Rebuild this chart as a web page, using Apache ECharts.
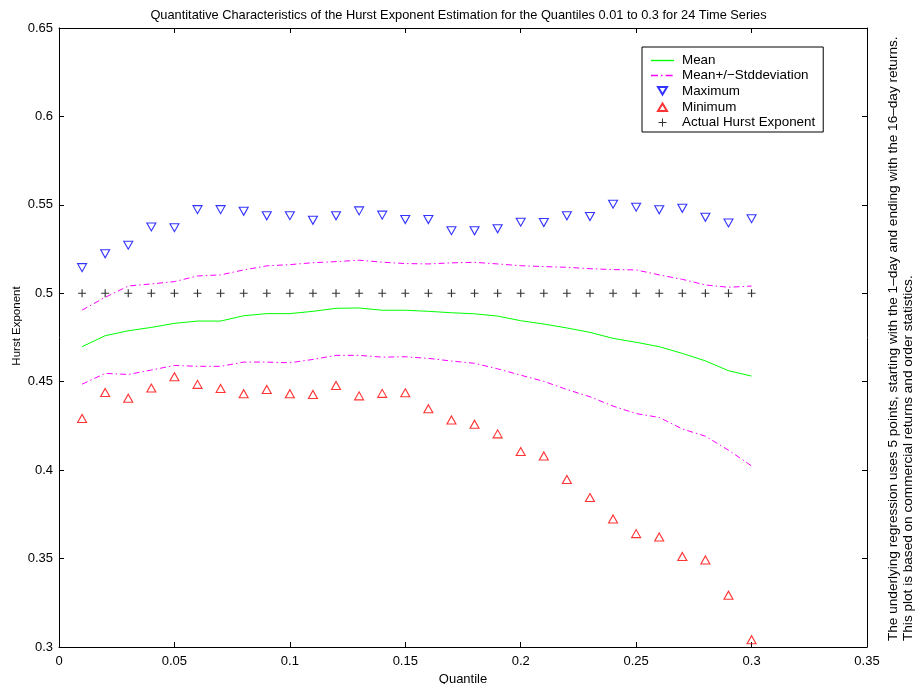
<!DOCTYPE html>
<html>
<head>
<meta charset="utf-8">
<script src="https://cdn.jsdelivr.net/npm/echarts@6/dist/echarts.min.js"></script>
<style>html,body{margin:0;padding:0;background:#fff}#c{width:917px;height:684px}</style>
</head>
<body>
<div id="c"></div>
<script>
var quantiles = [0.01,0.02,0.03,0.04,0.05,0.06,0.07,0.08,0.09,0.10,0.11,0.12,0.13,0.14,0.15,0.16,0.17,0.18,0.19,0.20,0.21,0.22,0.23,0.24,0.25,0.26,0.27,0.28,0.29,0.30];
var meanVals = [0.4698,0.4760,0.4788,0.4807,0.4830,0.4843,0.4843,0.4873,0.4885,0.4885,0.4898,0.4915,0.4917,0.4904,0.4904,0.4898,0.4890,0.4884,0.4871,0.4845,0.4826,0.4804,0.4779,0.4745,0.4723,0.4698,0.4660,0.4618,0.4562,0.4532];
var upperStd = [0.4905,0.4977,0.5041,0.5053,0.5066,0.5098,0.5104,0.5132,0.5155,0.5162,0.5173,0.5179,0.5187,0.5176,0.5168,0.5166,0.5172,0.5175,0.5166,0.5156,0.5151,0.5147,0.5139,0.5134,0.5132,0.5104,0.5079,0.5047,0.5034,0.5041];
var lowerStd = [0.4486,0.4547,0.4541,0.4566,0.4592,0.4587,0.4587,0.4611,0.4611,0.4607,0.4626,0.4649,0.4649,0.4639,0.4641,0.4632,0.4617,0.4604,0.4573,0.4537,0.4502,0.4456,0.4415,0.4362,0.4320,0.4298,0.4233,0.4192,0.4113,0.4024];
var maxVals = [0.5145,0.5223,0.5272,0.5375,0.5371,0.5473,0.5473,0.5464,0.5438,0.5439,0.5413,0.5438,0.5466,0.5442,0.5417,0.5417,0.5354,0.5353,0.5365,0.5402,0.5400,0.5438,0.5434,0.5504,0.5487,0.5472,0.5481,0.5430,0.5398,0.5422];
var minVals = [0.4292,0.4439,0.4407,0.4464,0.4528,0.4485,0.4462,0.4432,0.4456,0.4432,0.4428,0.4479,0.4420,0.4434,0.4437,0.4347,0.4284,0.4260,0.4205,0.4105,0.4080,0.3947,0.3845,0.3724,0.3641,0.3622,0.3512,0.3492,0.3293,0.3041];
var actualHurst = [0.5,0.5,0.5,0.5,0.5,0.5,0.5,0.5,0.5,0.5,0.5,0.5,0.5,0.5,0.5,0.5,0.5,0.5,0.5,0.5,0.5,0.5,0.5,0.5,0.5,0.5,0.5,0.5,0.5,0.5];

var titleText = 'Quantitative Characteristics of the Hurst Exponent Estimation for the Quantiles 0.01 to 0.3 for 24 Time Series';
var xName = 'Quantile';
var yName = 'Hurst Exponent';
var noteLine1 = 'The underlying regression uses 5 points, starting with the 1\u2013day and ending with the 16\u2013day returns.';
var noteLine2 = 'This plot is based on commercial returns and order statistics.';

function pairs(xs, ys){ return xs.map(function(x,i){ return [x, ys[i]]; }); }

var FONT = 'Liberation Sans, Arial, Helvetica, sans-serif';
var downTri = 'path://M0,0L10,0L5,8Z';
var upTri = 'path://M5,0L10,8L0,8Z';
var plus = 'path://M4.3,0H5.7V4.3H10V5.7H5.7V10H4.3V5.7H0V4.3H4.3Z';
// legend icons padded with move-to points so they keep their size
var lineIcon = 'path://M0,0M23,12M0,5.3H23V6.7H0Z';
var dashDotIcon = 'path://M0,0M23,12M0,5.2H7V6.8H0ZM10,5.2H11.6V6.8H10ZM14.6,5.2H21.6V6.8H14.6Z';
var downTriIcon = 'path://M0,0M23,12M7,2L16,2L11.5,9.5Z';
var upTriIcon = 'path://M0,0M23,12M11.5,2.5L16,10L7,10Z';
var plusIcon = 'path://M0,0M23,12M11,2H12V5.5H15.5V6.5H12V10H11V6.5H7.5V5.5H11Z';

var chart = echarts.init(document.getElementById('c'), null, {renderer:'canvas'});
var axisCommon = {
  axisLine:{show:true, onZero:false, lineStyle:{color:'#000', width:1}},
  axisTick:{show:true, inside:true, length:5, lineStyle:{color:'#000', width:1}},
  splitLine:{show:false}
};
chart.setOption({
  animation:false,
  backgroundColor:'#fff',
  title:{text:titleText, left:'center', top:4, textStyle:{fontFamily:FONT, fontSize:12.8, fontWeight:'normal', color:'#000'}},
  grid:{left:59, right:50, top:28, bottom:37, containLabel:false, outerBoundsMode:'none'},
  legend:{
    orient:'vertical', left:642, top:47,
    backgroundColor:'#fff', borderColor:'#000', borderWidth:1,
    padding:[7,8,3,8], itemGap:2, itemWidth:23, itemHeight:12,
    textStyle:{fontFamily:FONT, fontSize:13.4, lineHeight:12, color:'#000', padding:[0,0,0,3]},
    data:[
      {name:'Mean', icon:lineIcon, itemStyle:{color:'#00ff00'}},
      {name:'Mean+/\u2212Stddeviation', icon:dashDotIcon, itemStyle:{color:'#ff00ff', borderWidth:0}},
      {name:'Maximum', icon:downTriIcon},
      {name:'Minimum', icon:upTriIcon},
      {name:'Actual Hurst Exponent', icon:plusIcon}
    ]
  },
  xAxis:[
    Object.assign({type:'value', min:0, max:0.35, interval:0.05, position:'bottom',
      name:xName, nameLocation:'middle', nameGap:19,
      nameTextStyle:{fontFamily:FONT, fontSize:13, color:'#000'},
      axisLabel:{fontFamily:FONT, fontSize:13, color:'#000', margin:8}}, axisCommon),
    Object.assign({type:'value', min:0, max:0.35, interval:0.05, position:'top',
      axisLabel:{show:false}}, axisCommon)
  ],
  yAxis:[
    Object.assign({type:'value', min:0.3, max:0.65, interval:0.05, position:'left',
      axisLabel:{fontFamily:FONT, fontSize:13, color:'#000', margin:6}}, axisCommon),
    Object.assign({type:'value', min:0.3, max:0.65, interval:0.05, position:'right',
      axisLabel:{show:false}}, axisCommon)
  ],
  series:[
    {name:'Mean', type:'line', symbol:'none', data:pairs(quantiles, meanVals),
      lineStyle:{color:'#00ff00', width:1}, itemStyle:{color:'#00ff00'}},
    {name:'Mean+/\u2212Stddeviation', type:'line', symbol:'none', data:pairs(quantiles, upperStd),
      lineStyle:{color:'#ff00ff', width:1, type:[6,3,1.5,3]}, itemStyle:{color:'#ff00ff'}},
    {name:'Mean+/\u2212Stddeviation', type:'line', symbol:'none', data:pairs(quantiles, lowerStd),
      lineStyle:{color:'#ff00ff', width:1, type:[6,3,1.5,3]}, itemStyle:{color:'#ff00ff'}},
    {name:'Maximum', type:'scatter', symbol:downTri, symbolSize:[9,8], data:pairs(quantiles, maxVals),
      itemStyle:{color:'transparent', borderColor:'#0000ff', borderWidth:1.1}},
    {name:'Minimum', type:'scatter', symbol:upTri, symbolSize:[9,8], data:pairs(quantiles, minVals),
      itemStyle:{color:'transparent', borderColor:'#ff0000', borderWidth:1.1}},
    {name:'Actual Hurst Exponent', type:'scatter', symbol:plus, symbolSize:8, data:pairs(quantiles, actualHurst),
      itemStyle:{color:'#000'}}
  ],
  graphic:[
    {type:'text', x:17, y:326, rotation:Math.PI/2,
      style:{text:yName, fill:'#000', font:'11.5px ' + FONT, textAlign:'center', textVerticalAlign:'middle'}},
    {type:'text', x:893, y:641, rotation:Math.PI/2,
      style:{text:noteLine1, fill:'#000', font:'13.6px ' + FONT, textAlign:'left', textVerticalAlign:'middle'}},
    {type:'text', x:908, y:641, rotation:Math.PI/2,
      style:{text:noteLine2, fill:'#000', font:'13.6px ' + FONT, textAlign:'left', textVerticalAlign:'middle'}}
  ]
});
</script>
</body>
</html>
